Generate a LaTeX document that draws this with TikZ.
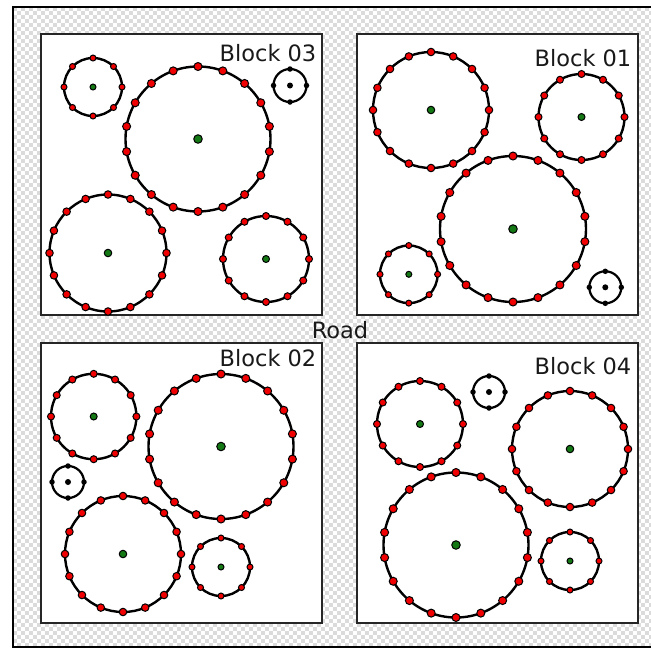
\documentclass[tikz,border=0pt]{standalone}
\usepackage{fontspec}
\setmainfont{DejaVu Sans}
\usetikzlibrary{calc}

\definecolor{ptred}{RGB}{240,0,0}
\definecolor{ptgreen}{RGB}{20,120,20}

\tikzset{
  ring/.style={draw=black, line width=2.4pt},
  blockbox/.style={draw=black!85, fill=white, line width=2pt},
  label/.style={font=\fontsize{22.5}{24}\selectfont, text=black!90, inner sep=0pt},
  reddot/.style={circle, draw=black, fill=ptred, line width=1pt, inner sep=0pt, minimum size=#1},
  greendot/.style={circle, draw=black, fill=ptgreen, line width=1pt, inner sep=0pt, minimum size=#1},
  blackdot/.style={circle, fill=black, inner sep=0pt, minimum size=#1},
}

% ring with n red points on its rim and a green centre
% #1 name, #2 x, #3 y, #4 radius, #5 points, #6 point size, #7 centre size
\newcommand\pointring[7]{%
  \draw[ring] (#2,#3) circle[radius=#4];
  \node[greendot=#7] (#1) at (#2,#3) {};
  \foreach \k in {1,...,#5} {
    \path (#1.center) ++({90+360*\k/#5}:#4) node[reddot=#6] (#1-\k) {};
  }%
}
% small ring with four black points and a black centre
\newcommand\tinyring[4]{%
  \draw[ring, line width=2.2pt] (#2,#3) circle[radius=#4];
  \node[blackdot=6pt] (#1) at (#2,#3) {};
  \foreach \k in {1,...,4} {
    \path (#1.center) ++({90*\k}:#4) node[blackdot=5.5pt] (#1-\k) {};
  }%
}

\begin{document}
\begin{tikzpicture}[x=1pt,y=-1pt]
\useasboundingbox (0,0) rectangle (651,649);
\clip (0,0) rectangle (651,649);
\fill[white] (0,0) rectangle (651,649);

% checkered ground inside the outer frame
\foreach \yy in {9,17,...,647}
  \draw[black!14, line width=4pt, dash pattern=on 4pt off 4pt] (13,\yy) -- (651,\yy);
\foreach \yy in {13,21,...,647}
  \draw[black!14, line width=4pt, dash pattern=on 4pt off 4pt, dash phase=4pt] (13,\yy) -- (651,\yy);

% outer frame
\draw[line width=2.5pt] (13,7) rectangle (666,647);

% the four blocks
\draw[blockbox] (41,34) rectangle (322,315);
\draw[blockbox] (357,34) rectangle (638,315);
\draw[blockbox] (41,343) rectangle (322,623);
\draw[blockbox] (357,343) rectangle (638,623);

\node[label, anchor=base east] (l03) at (316.5,61.5) {Block 03};
\node[label, anchor=base east] (l01) at (631.5,66) {Block 01};
\node[label, anchor=base east] (l02) at (316.5,366) {Block 02};
\node[label, anchor=base east] (l04) at (631.5,374) {Block 04};
\node[label, anchor=base] (road) at (340,338) {Road};

% Block 03
\pointring{b3a}{93}{87}{29}{8}{6pt}{6pt}
\pointring{b3b}{198}{139}{72.5}{18}{8pt}{8.5pt}
\tinyring{b3c}{290}{85.5}{16.5}
\pointring{b3d}{108}{253}{58.5}{16}{7.5pt}{7.5pt}
\pointring{b3e}{266}{259}{43}{12}{7pt}{7pt}

% Block 01
\pointring{b1a}{431}{110}{58}{16}{7.5pt}{7.5pt}
\pointring{b1b}{581.5}{117}{43}{12}{7pt}{7pt}
\pointring{b1c}{513}{229}{73}{18}{8pt}{8.5pt}
\pointring{b1d}{408.8}{274.3}{28.8}{8}{6pt}{6pt}
\tinyring{b1e}{605.3}{287.3}{16}

% Block 02
\pointring{b2a}{93.7}{416.5}{42.7}{12}{7pt}{7pt}
\pointring{b2b}{221}{446.5}{72.5}{18}{8pt}{8.5pt}
\tinyring{b2c}{68}{482}{16}
\pointring{b2d}{123}{554}{58}{16}{7.5pt}{7.5pt}
\pointring{b2e}{221}{567}{29}{8}{6pt}{6pt}

% Block 04
\pointring{b4a}{420}{424}{43}{12}{7pt}{7pt}
\tinyring{b4b}{489}{392}{16}
\pointring{b4c}{570}{449}{58}{16}{7.5pt}{7.5pt}
\pointring{b4d}{456}{545}{72.5}{18}{8pt}{8.5pt}
\pointring{b4e}{570}{561}{29}{8}{6pt}{6pt}
\end{tikzpicture}
\end{document}
